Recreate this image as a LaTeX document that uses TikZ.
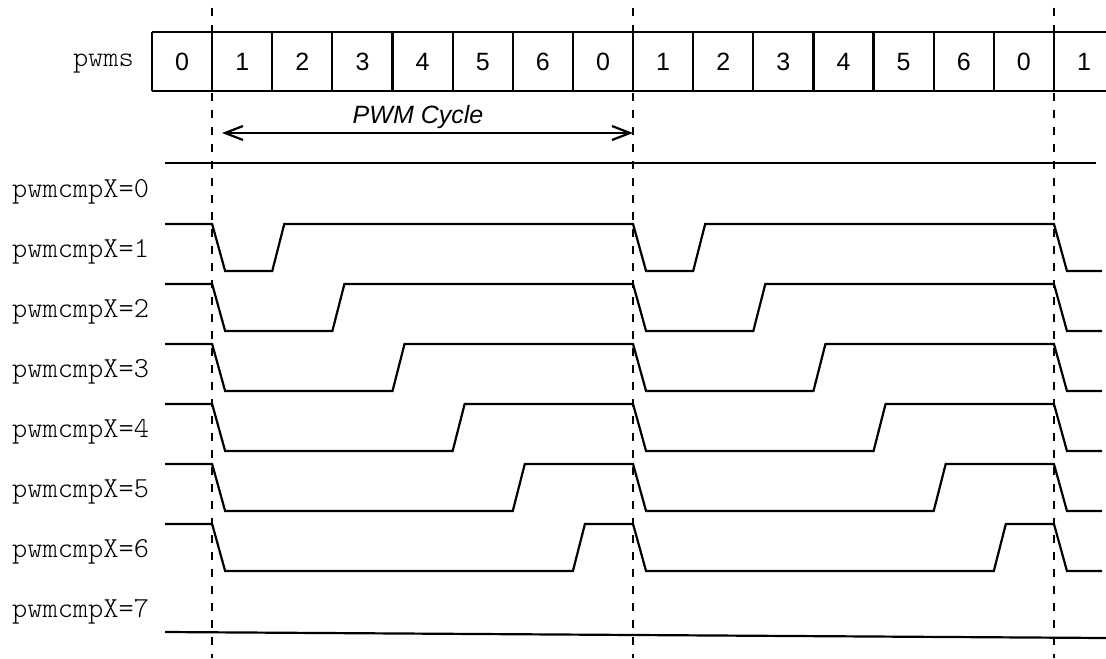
\documentclass[tikz,border=0pt]{standalone}
\usepackage{fontspec}
\setmainfont{Liberation Sans}
\newfontfamily\lblfont{Latin Modern Mono Light}
\usetikzlibrary{arrows.meta}
\begin{document}
\begin{tikzpicture}[x=0.5pt,y=-0.5pt,line width=1.1pt,
  sig/.style={line width=1.1pt,line join=miter},
  guide/.style={line width=1.1pt,dash pattern=on 4.2pt off 4.3pt},
  lbl/.style={font=\lblfont\fontsize{14.5}{16}\selectfont,anchor=base west,inner sep=0pt},
  digit/.style={font=\fontsize{12.5}{14}\selectfont,inner sep=0pt},
  cyc/.style={font=\itshape\fontsize{12.5}{14}\selectfont,inner sep=0pt},
  barb/.tip={Straight Barb[length=9pt,width=7pt,line width=1.1pt]}]
\useasboundingbox (0,0) rectangle (1106,658);
% register boxes
\draw (152,32) -- (1106,32);
\draw (152,91) -- (1106,91);
\foreach \k in {0,...,15}{
  \pgfmathsetmacro\bx{152+60.13*\k}
  \pgfmathtruncatemacro\dg{mod(\k,7)}
  \draw (\bx,32) -- (\bx,91);
  \node[digit] (d\k) at (\bx+30.07,62) {\dg};
}
\node[lbl,anchor=base east] (pw) at (135,67) {pwms};
% guides
\foreach \g/\gx in {a/212.13,b/633.04,c/1053.95}{
  \coordinate (gt\g) at (\gx,8);
  \coordinate (gb\g) at (\gx,658);
  \draw[guide] (gt\g) -- (gb\g);
}
% cycle arrow
\coordinate (as) at (222,133);
\coordinate (ae) at (633,133);
\draw[barb-barb] (as) -- (ae);
\node[cyc] (cycle) at (418,117) {PWM Cycle};
% row 0
\draw[sig] (165,163) -- (1096,163);
\node[lbl] (l0) at (11,197) {pwmcmpX=0};
% rows 1..6
\foreach \r in {1,...,6}{
  \pgfmathsetmacro\hy{224+60*(\r-1)}
  \pgfmathsetmacro\ly{\hy+47}
  \pgfmathsetmacro\xa{152+60.13}
  \pgfmathsetmacro\xb{152+60.13*(1+\r)}
  \pgfmathsetmacro\xc{152+60.13*8}
  \pgfmathsetmacro\xd{152+60.13*(8+\r)}
  \pgfmathsetmacro\xe{152+60.13*15}
  \draw[sig] (165,\hy) -- (\xa,\hy) -- (\xa+13,\ly) -- (\xb,\ly) -- (\xb+12,\hy)
     -- (\xc,\hy) -- (\xc+13,\ly) -- (\xd,\ly) -- (\xd+12,\hy)
     -- (\xe,\hy) -- (\xe+13,\ly) -- (1102,\ly);
  \node[lbl] (l\r) at (11,\hy+33) {pwmcmpX=\r};
}
% row 7
\draw[sig] (165,632) -- (1106,638);
\node[lbl] (l7) at (11,617) {pwmcmpX=7};
\end{tikzpicture}
\end{document}
